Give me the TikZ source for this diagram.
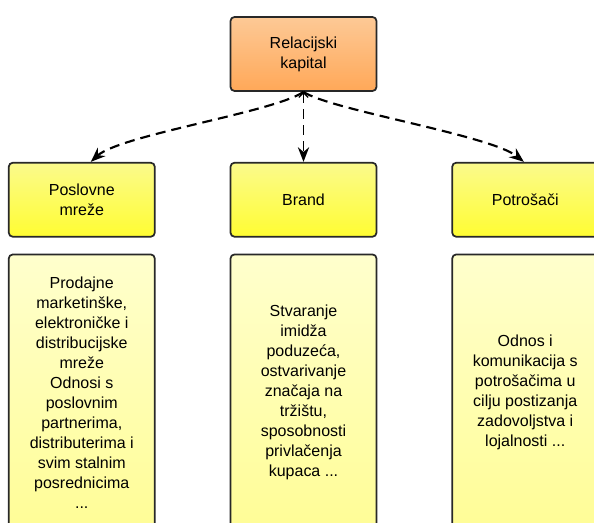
\documentclass[tikz,border=0pt]{standalone}
\usepackage{fontspec}
\setmainfont{Liberation Sans}
\definecolor{kapLight}{RGB}{253,201,150}
\definecolor{kapDark}{RGB}{255,168,88}
\definecolor{headLight}{RGB}{251,250,140}
\definecolor{headDark}{RGB}{255,253,50}
\definecolor{noteLight}{RGB}{255,255,205}
\definecolor{noteDark}{RGB}{255,253,150}
\definecolor{edgeGray}{RGB}{40,40,40}
\usetikzlibrary{arrows.meta,positioning,shadings}

\begin{document}
\begin{tikzpicture}[x=0.75pt, y=-0.75pt,
  box/.style={draw=edgeGray, line width=1.3pt, rounded corners=3pt,
              minimum width=109.5pt, minimum height=55.5pt, inner sep=0pt,
              font=\fontsize{12pt}{15pt}\selectfont, align=center,
              shading=axis, shading angle=45},
  kapbox/.style={box, top color=kapLight, bottom color=kapDark},
  headbox/.style={box, top color=headLight, bottom color=headDark},
  notebox/.style={box, minimum height=207pt, top color=noteLight, bottom color=noteDark},
  link/.style={line width=1.6pt, dash pattern=on 7.5pt off 4.5pt,
               -{Stealth[length=11pt, width=8.5pt]}}
]
  \useasboundingbox (0,0) rectangle (594,523);
  \clip (0,0) rectangle (594,523);

  \node[kapbox] (kapital) at (303.5,54) {Relacijski\\kapital};
  \node[headbox, below=52.5pt of kapital] (brand) {Brand};
  \node[headbox, left=55.5pt of brand]    (mreze) {Poslovne\\mreže};
  \node[headbox, right=55.5pt of brand]   (potrosaci) {Potrošači};

  \node[notebox, below=12pt of mreze] (mrezeOpis)
    {Prodajne\\marketinške,\\elektroničke i\\distribucijske\\mreže\\Odnosi s\\poslovnim\\partnerima,\\distributerima i\\svim stalnim\\posrednicima\\...};
  \node[notebox, below=12pt of brand] (brandOpis)
    {Stvaranje\\imidža\\poduzeća,\\ostvarivanje\\značaja na\\tržištu,\\sposobnosti\\privlačenja\\kupaca ...};
  \node[notebox, below=12pt of potrosaci] (potrosaciOpis)
    {Odnos i\\komunikacija s\\potrošačima u\\cilju postizanja\\zadovoljstva i\\lojalnosti ...};

  \draw[link] (kapital.south) .. controls (275,112) and (120,135) .. ([xshift=6.75pt]mreze.north);
  \draw[link, line width=1.2pt,
        {Straight Barb[length=3.5pt, width=7pt, line width=0.9pt]}-{Stealth[length=11pt, width=8.5pt]}]
    (kapital.south) -- (brand.north);
  \draw[link] (kapital.south) .. controls (330,110) and (490,135) .. ([xshift=-1pt]potrosaci.north);
\end{tikzpicture}
\end{document}
